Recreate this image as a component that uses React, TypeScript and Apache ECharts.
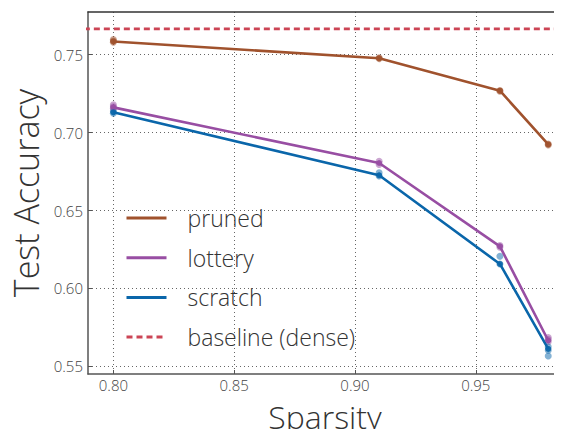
import React, { useEffect, useRef } from "react";
import * as echarts from "echarts";

const sparsity = [0.8, 0.91, 0.96, 0.98];
const prunedMean = [0.7585, 0.7477, 0.7269, 0.6924];
const lotteryMean = [0.7162, 0.6805, 0.627, 0.5666];
const scratchMean = [0.713, 0.6726, 0.6157, 0.5612];
const prunedRuns = [[0.7598, 0.7588, 0.758], [0.748, 0.7475], [0.727, 0.7265], [0.6927, 0.692]];
const lotteryRuns = [[0.7178, 0.7165, 0.7155], [0.6816, 0.6795], [0.6275, 0.6265], [0.5685, 0.5672, 0.5658]];
const scratchRuns = [[0.7138, 0.7125], [0.6742, 0.6722], [0.6207, 0.6157], [0.5625, 0.5604, 0.5566]];
const baseline = 0.7666;
const xTicks = [0.8, 0.85, 0.9, 0.95];
const yTicks = [0.55, 0.6, 0.65, 0.7, 0.75];
const xMin = 0.7895;
const xMax = 0.9857;
const yMin = 0.5451;
const yMax = 0.7774;

const names = ["pruned", "lottery", "scratch", "baseline (dense)"];
const colors = ["#a0522d", "#984ea3", "#0a66aa", "#cc4455"];

const FONT = "Open Sans";

function runsToPoints(runs: number[][]) {
  const pts: number[][] = [];
  runs.forEach((r, i) => r.forEach((v) => pts.push([sparsity[i], v])));
  return pts;
}

export default function App() {
  const ref = useRef<HTMLDivElement>(null);
  useEffect(() => {
    if (!ref.current) return;
    const chart = echarts.init(ref.current, null, { renderer: "svg" });
    const means = [prunedMean, lotteryMean, scratchMean];
    const runs = [prunedRuns, lotteryRuns, scratchRuns];
    const series: any[] = [];
    means.forEach((m, i) => {
      series.push({
        type: "line",
        name: names[i],
        data: m.map((v, j) => [sparsity[j], v]),
        symbol: "none",
        lineStyle: { color: colors[i], width: 2.6 },
        itemStyle: { color: colors[i] },
        z: 3,
      });
      series.push({
        type: "scatter",
        name: names[i] + "_runs",
        data: runsToPoints(runs[i]),
        symbolSize: 7,
        itemStyle: { color: colors[i], opacity: 0.5 },
        z: 2,
      });
      series.push({
        type: "scatter",
        name: names[i] + "_mean",
        data: m.map((v, j) => [sparsity[j], v]),
        symbolSize: 6,
        itemStyle: { color: colors[i], opacity: 0.9 },
        z: 4,
      });
    });
    series.push({
      type: "line",
      name: names[3],
      data: [
        [xMin - 0.01, baseline],
        [xMax + 0.01, baseline],
      ],
      symbol: "none",
      lineStyle: { color: colors[3], width: 2.6, type: [6, 4] },
      itemStyle: { color: colors[3] },
      z: 3,
    });

    const tickLabel = { fontFamily: FONT, fontWeight: 300, fontSize: 15, color: "#444", lineHeight: 15 };
    chart.setOption({
      animation: false,
      grid: { left: 88, right: 0, top: 12, bottom: 61 },
      legend: {
        data: names,
        orient: "vertical",
        left: 120,
        top: 201,
        itemWidth: 40,
        itemHeight: 14,
        itemGap: 15.7,
        itemStyle: { opacity: 0 },
        lineStyle: { width: 3 },
        textStyle: {
          fontFamily: FONT,
          fontWeight: 300,
          fontSize: 23,
          color: "#333",
          lineHeight: 24,
          padding: [0, 0, 0, 16],
        },
      },
      xAxis: [
        {
          type: "value",
          min: xMin,
          max: xMax,
          name: "Sparsity",
          nameLocation: "middle",
          nameGap: 28,
          nameTextStyle: { fontFamily: FONT, fontWeight: 300, fontSize: 32, color: "#333", lineHeight: 28 },
          axisLine: { show: true, lineStyle: { color: "#555", width: 1.5 } },
          axisTick: { show: true, inside: true, length: 4, customValues: xTicks, lineStyle: { color: "#555" } },
          axisLabel: { ...tickLabel, customValues: xTicks, margin: 3, formatter: (v: number) => v.toFixed(2) },
          splitLine: { show: true, lineStyle: { color: "#666", type: [1, 3], width: 1 } },
        },
        {
          type: "value",
          position: "top",
          min: xMin,
          max: xMax,
          axisLine: { show: true, lineStyle: { color: "#333", width: 1.5 } },
          axisTick: { show: false },
          axisLabel: { show: false },
          splitLine: { show: false },
        },
      ],
      yAxis: {
        type: "value",
        min: yMin,
        max: yMax,
        name: "Test Accuracy",
        nameLocation: "middle",
        nameGap: 45,
        nameTextStyle: { fontFamily: FONT, fontWeight: 300, fontSize: 34, color: "#333", lineHeight: 28 },
        axisLine: { show: true, lineStyle: { color: "#555", width: 1.5 } },
        axisTick: { show: true, inside: true, length: 4, customValues: yTicks, lineStyle: { color: "#555" } },
        axisLabel: { ...tickLabel, customValues: yTicks, margin: 5, formatter: (v: number) => v.toFixed(2) },
        splitLine: { show: true, lineStyle: { color: "#666", type: [1, 3], width: 1 } },
      },
      series,
    });
    return () => chart.dispose();
  }, []);
  return <div ref={ref} style={{ width: 562, height: 437, margin: -8 }} />;
}
